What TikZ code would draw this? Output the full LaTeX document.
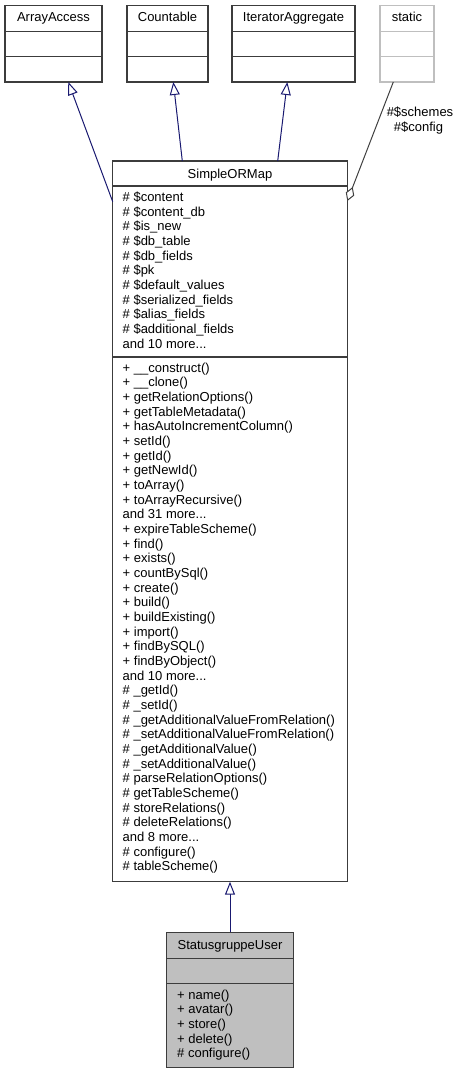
\documentclass[tikz,border=0pt]{standalone}
\usepackage{fontspec}
\setmainfont{Liberation Sans}
\usetikzlibrary{arrows.meta,calc}
\definecolor{edgeblue}{RGB}{25,25,112}
\definecolor{boxline}{RGB}{60,60,60}
\definecolor{ghost}{RGB}{191,191,191}
\definecolor{aggline}{RGB}{64,64,64}
\definecolor{sgufill}{RGB}{191,191,191}
\newcommand\mydots{...}
\tikzset{
  classbox/.style={draw=boxline, line width=1.1pt, inner sep=0pt, outer sep=0pt},
  ghostbox/.style={draw=ghost, line width=1.1pt, inner sep=0pt, outer sep=0pt},
  divider/.style={draw=boxline, line width=1.1pt},
  ghostdivider/.style={draw=ghost, line width=1.1pt},
  umltext/.style={inner sep=0pt, font=\fontsize{13}{14.67}\selectfont},
  ttl/.style={umltext, anchor=base},
  member/.style={umltext, anchor=base west},
  inherit/.style={draw=edgeblue, line width=1pt, -{Triangle[length=13pt, width=10pt, fill=white, line width=1pt]}},
  aggr/.style={draw=aggline, line width=1pt, -{Diamond[length=15pt, width=9pt, fill=white, line width=1pt]}}
}
\begin{document}
\begin{tikzpicture}[x=1pt, y=-1pt]
\useasboundingbox (0,0) rectangle (459,1073);

% top row boxes
\node[classbox, minimum width=97pt, minimum height=76.3pt] (aa) at (53.5,43.85) {};
\node[classbox, minimum width=81pt, minimum height=76.3pt] (cnt) at (167.5,43.85) {};
\node[classbox, minimum width=123pt, minimum height=76.3pt] (ia) at (293.5,43.85) {};
\node[ghostbox, minimum width=54pt, minimum height=76.3pt] (st) at (407,43.85) {};
\foreach \b/\s in {aa/divider, cnt/divider, ia/divider, st/ghostdivider}{
  \draw[\s] ($(\b.north west)+(0,26)$) -- ($(\b.north east)+(0,26)$);
  \draw[\s] ($(\b.north west)+(0,51)$) -- ($(\b.north east)+(0,51)$);
}
\node[ttl] (aa-t) at (53.5,21.5) {ArrayAccess};
\node[ttl] (cnt-t) at (167.5,21.5) {Countable};
\node[ttl] (ia-t) at (293.5,21.5) {IteratorAggregate};
\node[ttl] (st-t) at (407,21.5) {static};

% SimpleORMap
\node[classbox, minimum width=234.6pt, minimum height=720.7pt] (sorm) at (230,521.35) {};
\draw[divider] ($(sorm.north west)+(0,25)$) -- ($(sorm.north east)+(0,25)$);
\draw[divider] ($(sorm.north west)+(0,196)$) -- ($(sorm.north east)+(0,196)$);
\node[ttl] (sorm-t) at (230,178) {SimpleORMap};
\foreach \t [count=\i from 0] in {\# \$content, \# \$content\_db, \# \$is\_new, \# \$db\_table, \# \$db\_fields, \# \$pk, \# \$default\_values, \# \$serialized\_fields, \# \$alias\_fields, \# \$additional\_fields, and 10 more\mydots}{
  \node[member] (sorm-a\i) at (122.5,201.5+\i*14.67) {\t};
}
\foreach \t [count=\i from 0] in {+ \_\_construct(), + \_\_clone(), + getRelationOptions(), + getTableMetadata(), + hasAutoIncrementColumn(), + setId(), + getId(), + getNewId(), + toArray(), + toArrayRecursive(), and 31 more\mydots, + expireTableScheme(), + find(), + exists(), + countBySql(), + create(), + build(), + buildExisting(), + import(), + findBySQL(), + findByObject(), and 10 more\mydots, \# \_getId(), \# \_setId(), \# \_getAdditionalValueFromRelation(), \# \_setAdditionalValueFromRelation(), \# \_getAdditionalValue(), \# \_setAdditionalValue(), \# parseRelationOptions(), \# getTableScheme(), \# storeRelations(), \# deleteRelations(), and 8 more\mydots, \# configure(), \# tableScheme()}{
  \node[member] (sorm-m\i) at (122.5,372+\i*14.67) {\t};
}

% StatusgruppeUser
\node[classbox, fill=sgufill, minimum width=126.6pt, minimum height=135pt] (sgu) at (230,999.8) {};
\draw[divider] ($(sgu.north west)+(0,26)$) -- ($(sgu.north east)+(0,26)$);
\draw[divider] ($(sgu.north west)+(0,51)$) -- ($(sgu.north east)+(0,51)$);
\node[ttl] (sgu-t) at (230,949) {StatusgruppeUser};
\foreach \t [count=\i from 0] in {+ name(), + avatar(), + store(), + delete(), \# configure()}{
  \node[member] (sgu-m\i) at (177,999+\i*14.67) {\t};
}

% connectors
\draw[inherit] ($(sorm.north west)+(0,40.7)$) -- ($(aa.south)+(14.8,0)$);
\draw[inherit] ($(sorm.north)+(-47.7,0)$) -- ($(cnt.south)+(5.8,0)$);
\draw[inherit] ($(sorm.north)+(47.7,0)$) -- ($(ia.south)+(-6.2,0)$);
\draw[inherit] (sgu.north) -- (sorm.south);
\draw[aggr] ($(st.south)+(-13.7,0)$) -- ($(sorm.north east)+(0,40)$);
\node[ttl] (lbl1) at (420,116.5) {\#\$schemes};
\node[ttl] (lbl2) at (418.5,131) {\#\$config};
\end{tikzpicture}
\end{document}
